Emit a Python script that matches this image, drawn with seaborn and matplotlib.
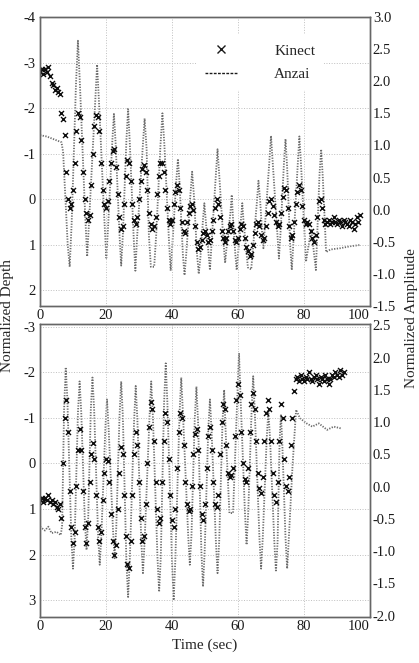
import numpy as np
import matplotlib
matplotlib.use("Agg")
import matplotlib.pyplot as plt
from matplotlib.lines import Line2D
import seaborn as sns

# ---- top panel ----
anzai_top_t = [0, 2, 4, 5.5, 6.5, 7.0,
               8.4, 9.0, 9.6, 10.9, 11.5, 12.1, 13.7, 14.3, 14.9, 16.7, 17.3, 17.9,
               19.5, 20.1, 20.6, 21.9, 22.4, 22.9, 24.1, 24.6, 25.1, 26.2, 26.7, 27.2,
               28.4, 28.9, 29.4, 31.1, 31.7, 32.3, 33.0, 33.6, 34.6, 35.2, 36.5, 37.1, 37.7,
               39.1, 39.6, 40.1, 41.3, 41.8, 42.3, 43.3, 43.8, 44.3, 45.6, 46.1, 46.6,
               47.6, 48.1, 48.6, 49.4, 49.8, 50.2, 51.1, 51.5, 51.9, 53.3, 53.8, 54.3,
               55.6, 56.1, 56.6, 57.7, 58.1, 58.5, 59.2, 59.6, 60.0, 60.9, 61.3, 61.7,
               63.0, 64.0, 65.7, 66.2, 66.7, 67.3, 67.7, 68.1, 69.5, 70.0, 70.5,
               71.9, 72.4, 72.9, 73.9, 74.4, 74.9, 75.8, 76.3, 76.8, 78.1, 78.6, 79.1,
               80.6, 82.2, 83.6, 84.7, 85.2, 85.7, 86.7, 88, 91, 94, 97]
anzai_top_v = [1.16, 1.14, 1.10, 1.07, 1.05, 0.9,
               -0.55, -0.89, -0.2, 1.95, 2.63, 1.95, -0.1, -0.73, -0.15, 1.65, 2.26, 1.65,
               -0.15, -0.75, -0.3, 1.05, 1.49, 1.05, -0.4, -0.87, -0.4, 1.1, 1.57, 1.05,
               -0.45, -0.95, -0.45, 0.95, 1.42, 0.95, -0.4, -0.89, -0.89, -0.4, 1.0, 1.5, 1.0,
               -0.5, -0.95, -0.55, 0.45, 0.79, 0.4, -0.7, -1.02, -0.7, 0.25, 0.59, 0.25,
               -0.7, -1.0, -0.75, -0.15, 0.10, -0.15, -0.7, -0.94, -0.6, 0.55, 0.94, 0.55,
               -0.5, -0.83, -0.55, -0.05, 0.23, -0.15, -0.7, -0.94, -0.7, -0.15, 0.10, -0.2,
               -0.9, -0.93, 0.1, 0.45, 0.15, -0.35, -0.60, -0.3, 0.75, 1.15, 0.75,
               -0.35, -0.76, -0.35, 0.7, 1.10, 0.65, -0.55, -0.94, -0.5, 0.7, 1.14, 0.7,
               -0.81, -0.3, -0.94, 0.55, 0.94, 0.5, -0.66, -0.62, -0.6, -0.57, -0.55]

kinect_top_t = np.arange(0, 97.5, 0.5)
kinect_top_d = [
    -2.8, -2.85, -2.75, -2.85, -2.8, -2.9, -2.7, -2.55, -2.5, -2.4,
    -2.45, -2.35, -2.3, -1.9, -1.75, -1.4, -0.6, 0.0, 0.2, 0.1,
    -0.2, -0.8, -1.5, -1.9, -1.8, -1.3, -0.6, 0.0, 0.3, 0.45,
    0.35, -0.3, -1.0, -1.6, -1.85, -1.8, -1.5, -0.8, -0.2, 0.1,
    0.2, 0.05, -0.4, -0.8, -1.05, -1.1, -0.7, -0.1, 0.4, 0.65,
    0.6, 0.1, -0.5, -0.85, -0.8, -0.4, 0.1, 0.45, 0.55, 0.4,
    0.0, -0.4, -0.65, -0.75, -0.6, -0.2, 0.3, 0.55, 0.65, 0.6,
    0.4, -0.1, -0.5, -0.8, -0.8, -0.6, -0.2, 0.2, 0.45, 0.55,
    0.45, 0.1, -0.15, -0.3, -0.2, 0.2, 0.5, 0.7, 0.75, 0.5,
    0.3, 0.15, 0.1, 0.25, 0.6, 0.95, 1.1, 1.05, 0.9, 0.75,
    0.7, 0.8, 0.95, 0.9, 0.7, 0.45, 0.2, 0.0, 0.1, 0.4,
    0.7, 0.85, 0.95, 0.85, 0.7, 0.6, 0.55, 0.7, 0.9, 0.95,
    0.85, 0.65, 0.55, 0.6, 0.85, 1.05, 1.15, 1.25, 1.2, 1.0,
    0.75, 0.55, 0.5, 0.6, 0.8, 0.9, 0.85, 0.6, 0.3, 0.05,
    0.0, 0.15, 0.35, 0.5, 0.6, 0.55, 0.3, -0.05, -0.25, -0.2,
    0.2, 0.6, 0.85, 0.8, 0.5, 0.1, -0.15, -0.3, -0.2, 0.15,
    0.45, 0.55, 0.5, 0.55, 0.7, 0.85, 0.95, 0.8, 0.4, 0.05,
    0.0, 0.2, 0.45, 0.55, 0.5, 0.45, 0.55, 0.5, 0.4, 0.5,
    0.55, 0.45, 0.5, 0.6, 0.45, 0.5, 0.55, 0.6, 0.45, 0.5,
    0.65, 0.55, 0.4, 0.5, 0.35]

# ---- bottom panel ----
anzai_bot_t = [0, 1.5, 2.5, 3.5, 5, 6.3, 6.7,
               7.3, 7.8, 8.3, 9.5, 10.0, 10.5, 11.5, 12.0, 12.5, 13.6, 14.1, 14.6,
               15.4, 15.9, 16.4, 17.6, 18.1, 18.6, 19.8, 20.3, 20.8, 22.1, 22.6, 23.1,
               24.1, 24.6, 25.1, 26.2, 26.7, 27.2, 28.5, 29.0, 29.5, 30.7, 31.2, 31.7,
               33.2, 33.7, 34.2, 35.6, 36.1, 36.6, 37.6, 38.1, 38.6, 40.0, 40.5, 41.0,
               42.3, 42.8, 43.3, 44.9, 45.4, 45.9, 46.9, 47.4, 47.9, 48.9, 49.4, 49.9,
               51.0, 51.5, 52.0, 53.3, 53.8, 54.3, 55.3, 55.8, 56.3, 57.4, 58.5,
               59.8, 60.3, 60.8, 62.1, 62.6, 63.1, 64.1, 64.6, 65.1, 66.5, 67.0, 67.5,
               68.7, 69.2, 69.7, 71.0, 71.5, 72.0, 72.6, 73.0, 73.4, 74.4, 74.9, 75.4,
               76.5, 77.6, 78.8, 80.8, 82.5, 84.5, 86, 87, 89, 91.4]
anzai_bot_v = [-0.62, -0.68, -0.62, -0.72, -0.70, -0.75, -0.6,
               1.2, 1.85, 1.35, -0.8, -1.27, -0.8, 1.15, 1.63, 1.15, -0.55, -0.98, -0.5,
               1.2, 1.69, 1.2, -0.75, -1.21, -0.75, 0.9, 1.35, 0.9, -0.65, -1.11, -0.65,
               1.1, 1.63, 1.1, -1.2, -1.71, -1.15, 1.0, 1.56, 1.05, -0.85, -1.34, -0.85,
               1.1, 1.63, 1.1, -1.1, -1.63, -1.1, 1.3, 1.91, 1.3, -1.15, -1.76, -1.15,
               1.15, 1.69, 1.15, -0.75, -1.21, -0.75, 1.05, 1.55, 1.0, -1.0, -1.55, -1.0,
               0.9, 1.35, 0.85, -0.85, -1.34, -0.85, 1.0, 1.50, 0.8, -0.41, -0.41,
               1.4, 2.07, 1.35, -0.4, -0.90, -0.4, 1.15, 1.71, 1.15, -0.8, -1.27, -0.8,
               0.75, 1.17, 0.75, -0.85, -1.32, -0.85, 0.7, 1.12, 0.7, -0.8, -1.27, -0.8,
               0.3, 1.19, 1.06, 0.98, 0.93, 0.98, 0.92, 0.88, 0.93, 0.9]

kinect_bot_t = np.arange(0, 92.5, 0.5)
kinect_bot_d = [
    0.8, 0.75, 0.85, 0.75, 0.8, 0.7, 0.85, 0.8, 0.9, 0.85,
    0.95, 1.0, 0.9, 1.2, 0.0, -1.0, -1.4, -0.7, 0.6, 1.4,
    1.75, 1.5, 0.5, -0.3, -0.75, -0.3, 0.6, 1.4, 1.75, 1.3,
    0.4, -0.2, -0.45, -0.1, 0.7, 1.4, 1.7, 1.5, 0.8, 0.2,
    -0.1, -0.05, 0.4, 1.1, 1.7, 2.0, 1.8, 1.0, 0.2, -0.35,
    -0.2, 0.7, 1.6, 2.2, 2.3, 1.7, 0.7, -0.2, -0.7, -0.4,
    0.4, 1.2, 1.7, 1.6, 0.9, 0.0, -0.8, -1.35, -1.2, -0.5,
    0.4, 1.0, 1.3, 1.2, 0.4, -0.5, -1.1, -0.9, -0.1, 0.7,
    1.25, 1.4, 1.0, 0.1, -0.7, -1.1, -1.0, -0.4, 0.4, 0.9,
    1.05, 1.0, 0.5, -0.2, -0.65, -0.75, -0.3, 0.5, 1.1, 1.25,
    0.9, 0.1, -0.6, -0.8, -0.3, 0.4, 0.9, 0.95, 0.7, -0.2,
    -0.9, -1.3, -1.2, -0.4, 0.2, 0.3, 0.25, 0.1, -0.6, -1.4,
    -1.75, -1.5, -0.7, 0.0, 0.35, 0.4, 0.1, -0.7, -1.3, -1.55,
    -1.2, -0.5, 0.2, 0.55, 0.65, 0.3, -0.5, -1.1, -1.4, -1.2,
    -0.5, 0.2, 0.7, 0.85, 0.4, -0.5, -1.3, -1.0, -0.1, 0.5,
    0.6, 0.3, -0.4, -1.0, -1.6, -1.85, -1.9, -1.8, -1.95, -1.85,
    -1.8, -1.9, -1.85, -2.0, -1.85, -1.8, -1.9, -1.95, -1.85, -1.75,
    -1.9, -1.85, -1.8, -1.95, -1.85, -1.75, -1.85, -1.95, -1.9, -2.0,
    -1.95, -1.9, -2.05, -1.95, -2.0]

x_ticks = [0, 20, 40, 60, 80, 100]

sns.set_theme(style="white")
plt.rcParams['font.family'] = ['Liberation Serif', 'DejaVu Serif']
plt.rcParams['axes.unicode_minus'] = False
fs = 10.5

fig = plt.figure(figsize=(4.19, 6.63), dpi=100)
ax_top = fig.add_axes([40 / 419, 1 - 306 / 663, 330 / 419, 289 / 663])
ax_bot = fig.add_axes([40 / 419, 1 - 617 / 663, 330 / 419, 293 / 663])


def panel(ax, at, av, kt, kd, dlim, dticks, alim, aticks):
    ax2 = ax.twinx()
    sns.lineplot(x=at, y=av, ax=ax2, color='0.42', linestyle=(0, (0.7, 0.8)), linewidth=1.3)
    sns.scatterplot(x=kt, y=kd, ax=ax, marker='x', color='0.05', s=13, linewidth=1.0)
    ax.set_zorder(ax2.get_zorder() + 1)
    ax.patch.set_visible(False)
    ax.set_xlim(0, 100)
    ax.set_ylim(*dlim)
    ax2.set_ylim(*alim)
    ax.set_xticks(x_ticks)
    ax.set_xticklabels([str(v) for v in x_ticks])
    ax.get_xticklabels()[-1].set_horizontalalignment('right')
    ax.set_yticks(dticks)
    ax.set_yticklabels([str(v) for v in dticks])
    ax2.set_yticks(aticks)
    ax2.set_yticklabels([f"{v:.1f}" for v in aticks])
    ax.grid(True, color='0.75', linestyle=':', linewidth=0.7)
    for a in (ax, ax2):
        a.tick_params(length=0, labelsize=fs, colors='0.1')
        a.set_xlabel('')
        a.set_ylabel('')
        for s in a.spines.values():
            s.set_color('0.4')
            s.set_linewidth(1.0)
    ax.tick_params(axis='y', pad=3)
    ax.tick_params(axis='x', pad=2)
    ax2.tick_params(axis='y', pad=2)
    return ax2


panel(ax_top, anzai_top_t, anzai_top_v, kinect_top_t, kinect_top_d,
      (2.35, -4), [-4, -3, -2, -1, 0, 1, 2], (-1.5, 3.0),
      [3.0, 2.5, 2.0, 1.5, 1.0, 0.5, 0.0, -0.5, -1.0, -1.5])
panel(ax_bot, anzai_bot_t, anzai_bot_v, kinect_bot_t, kinect_bot_d,
      (3.37, -3.06), [-3, -2, -1, 0, 1, 2, 3], (-2.02, 2.52),
      [2.5, 2.0, 1.5, 1.0, 0.5, 0.0, -0.5, -1.0, -1.5, -2.0])

handles = [Line2D([], [], marker='x', color='0.1', linestyle='', markersize=6, markeredgewidth=1.0),
           Line2D([], [], color='0.1', linestyle=(0, (2, 1)), linewidth=1.0)]
leg = ax_top.legend(handles, ['Kinect', 'Anzai'], loc='upper left', bbox_to_anchor=(0.45, 0.965),
                    frameon=True, fontsize=fs + 0.5, handlelength=2.1, handletextpad=2.4,
                    labelspacing=0.65, borderpad=0.6)
leg.get_frame().set_facecolor('white')
leg.get_frame().set_edgecolor('none')
leg.get_frame().set_alpha(1)

fig.text(8 / 419, 1 - 316 / 663, 'Normalized Depth', rotation=90, ha='center', va='center', fontsize=fs + 0.5)
fig.text(411 / 419, 1 - 318 / 663, 'Normalized Amplitude', rotation=90, ha='center', va='center', fontsize=fs + 0.5)
fig.text(205 / 419, 1 - 645 / 663, 'Time (sec)', ha='center', va='center', fontsize=fs + 0.5)

fig.savefig('out.png', dpi=100)
